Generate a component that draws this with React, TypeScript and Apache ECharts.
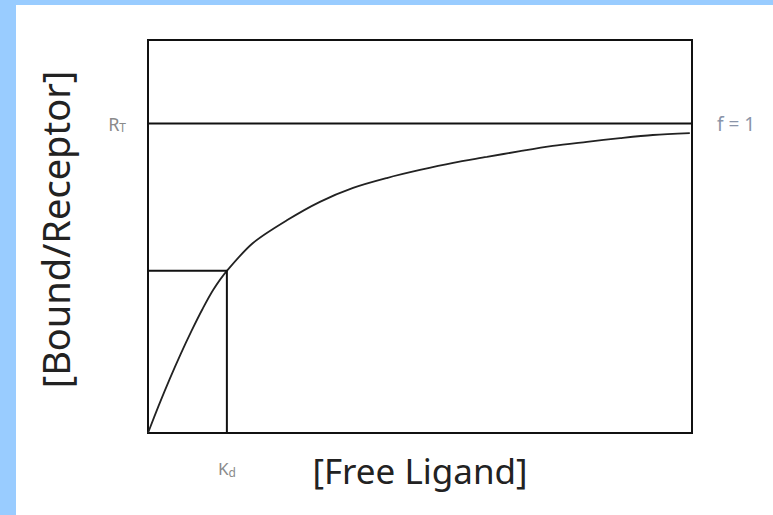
import React, { useEffect, useRef } from "react";
import * as echarts from "echarts";

const CURVE_X = [0, 2, 4, 6, 8, 10, 12, 14.5, 19.3, 25.6, 31.6, 37.7, 43.9, 50.0, 56.1, 62.3, 68.4, 74.4, 80.7, 86.8, 92.8, 99.6];
const CURVE_Y = [0, 9, 17.5, 25.5, 33, 40, 46.3, 52.4, 61.4, 68.8, 74.7, 79.2, 82.4, 85.0, 87.3, 89.2, 91.1, 92.8, 94.1, 95.3, 96.3, 96.9];
const RT = 100;
const KD_X = 14.5;
const KD_Y = 52.4;
const X_MAX = 100;
const Y_MAX = 127;
const X_NAME = "[Free Ligand]";
const Y_NAME = "[Bound/Receptor]";

const FONT = "Noto Sans";

export default function App() {
  const ref = useRef<HTMLDivElement>(null);
  useEffect(() => {
    if (!ref.current) return;
    const chart = echarts.init(ref.current, null, { renderer: "svg" });
    const lineStyle = { color: "#111", width: 2 };
    chart.setOption({
      animation: false,
      backgroundColor: "#fff",
      graphic: [
        { type: "rect", shape: { x: 0, y: 0, width: 16, height: 515 }, style: { fill: "#99CCFF" } },
        { type: "rect", shape: { x: 0, y: 0, width: 773, height: 5 }, style: { fill: "#99CCFF" } },
      ],
      grid: {
        left: 148,
        right: 81,
        top: 40,
        bottom: 82,
        outerBoundsMode: "none",
        show: true,
        borderColor: "#111",
        borderWidth: 2,
      },
      xAxis: {
        type: "value",
        min: 0,
        max: X_MAX,
        axisLine: { show: false },
        axisTick: { show: false },
        splitLine: { show: false },
        axisLabel: {
          customValues: [KD_X],
          margin: 25,
          formatter: () => "{a|K}{b|d}",
          rich: {
            a: { fontFamily: FONT, fontSize: 17, color: "#8a8a8a" },
            b: { fontFamily: FONT, fontSize: 12, color: "#8a8a8a", padding: [8, 0, 0, 0] },
          },
        },
        name: X_NAME,
        nameLocation: "middle",
        nameGap: 20,
        nameMoveOverlap: false,
        nameTextStyle: { fontFamily: FONT, fontSize: 35, color: "#222" },
      },
      yAxis: [
        {
          type: "value",
          min: 0,
          max: Y_MAX,
          axisLine: { show: false },
          axisTick: { show: false },
          splitLine: { show: false },
          axisLabel: {
            customValues: [RT],
            margin: 22,
            formatter: () => "{a|R}{b|T}",
            rich: {
              a: { fontFamily: FONT, fontSize: 18, color: "#8a8a8a" },
              b: { fontFamily: FONT, fontSize: 12, color: "#8a8a8a", padding: [8, 0, 0, 0] },
            },
          },
          name: Y_NAME,
          nameLocation: "middle",
          nameGap: 74,
          nameMoveOverlap: false,
          nameTextStyle: { fontFamily: FONT, fontSize: 38, color: "#222", padding: [0, 0, 0, 14] },
        },
        {
          type: "value",
          position: "right",
          min: 0,
          max: Y_MAX,
          axisLine: { show: false },
          axisTick: { show: false },
          splitLine: { show: false },
          axisLabel: {
            customValues: [RT],
            margin: 25,
            formatter: () => "f = 1",
            fontFamily: FONT,
            fontSize: 19,
            color: "#8a94a8",
          },
        },
      ],
      series: [
        {
          type: "line",
          data: CURVE_X.map((x, i) => [x, CURVE_Y[i]]),
          smooth: 0.3,
          showSymbol: false,
          lineStyle: { color: "#222", width: 1.8 },
        },
        {
          type: "line",
          data: [[0, RT], [X_MAX, RT]],
          showSymbol: false,
          lineStyle,
        },
        {
          type: "line",
          data: [[0, KD_Y], [KD_X, KD_Y], [KD_X, 0]],
          showSymbol: false,
          lineStyle,
        },
      ],
    });
    return () => chart.dispose();
  }, []);
  return <div ref={ref} style={{ position: "fixed", left: 0, top: 0, width: 773, height: 515 }} />;
}
